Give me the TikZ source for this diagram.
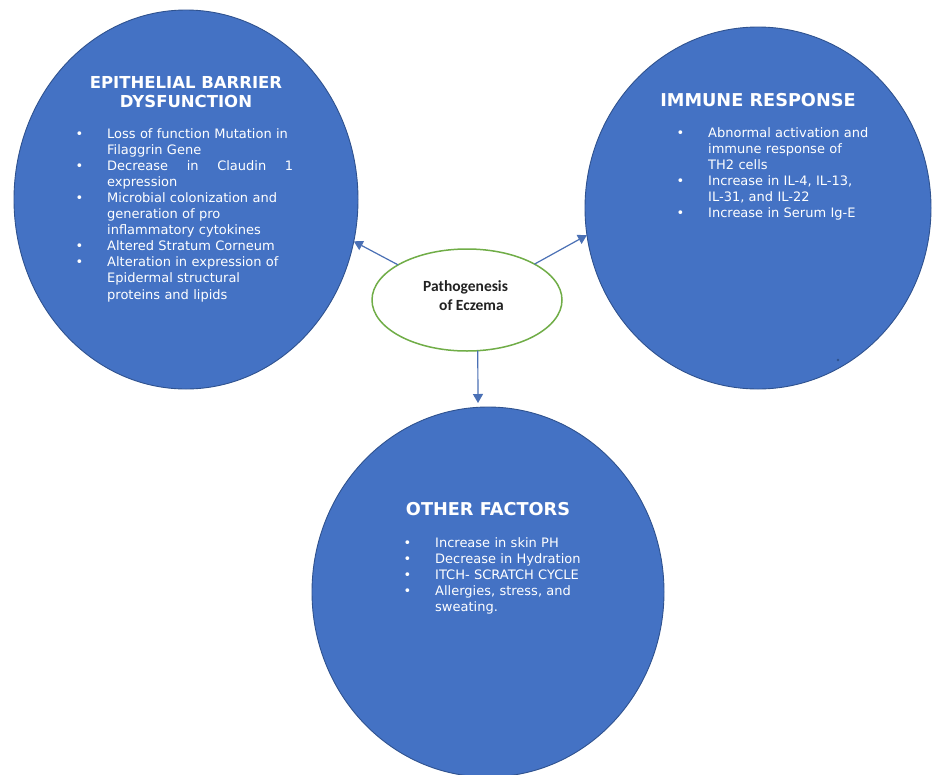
\documentclass[tikz,border=0pt]{standalone}
\usepackage{fontspec}
\setmainfont{DejaVu Sans}
\newfontfamily\carlito{Carlito}
\usetikzlibrary{arrows.meta,shapes.geometric}
\definecolor{fillblue}{HTML}{4472C4}
\definecolor{edgeblue}{HTML}{2F528F}
\definecolor{arrowblue}{HTML}{4A70B5}
\definecolor{ringgreen}{HTML}{70AD47}
\definecolor{darktext}{HTML}{222222}
\newcommand{\bul}{\leavevmode\llap{\textbullet\hspace{24pt}}}
\begin{document}
\begin{tikzpicture}[x=1pt,y=-1pt,
  bigcirc/.style={ellipse, draw=edgeblue, fill=fillblue, line width=0.9pt, inner sep=0pt, outer sep=0pt},
  titletext/.style={text=white, font=\fontsize{17.7}{20}\selectfont\bfseries, anchor=base, inner sep=0pt},
  bodytext/.style={text=white, font=\fontsize{13}{16.1}\selectfont, anchor=base west, inner sep=0pt, align=left, text width=200pt},
  link/.style={draw=arrowblue, line width=1.2pt, -{Triangle[length=9pt,width=10pt]}},
]
\useasboundingbox (0,0) rectangle (932,774);
\fill[white] (0,0) rectangle (932,774);

\node[bigcirc, minimum width=344pt, minimum height=379pt] (L) at (186,199.5) {};
\node[bigcirc, minimum width=346pt, minimum height=362pt] (R) at (758,208) {};
\node[bigcirc, minimum width=352pt, minimum height=370pt] (B) at (488,592) {};
\node[ellipse, draw=ringgreen, line width=1.5pt, fill=white, minimum width=190pt, minimum height=102pt, inner sep=0pt, outer sep=0pt] (C) at (467,300) {};

% centre text
\node[anchor=base west, inner sep=0pt, text=darktext, font={\carlito\bfseries\fontsize{15.5}{18}\selectfont}] (C1) at (423,291) {Pathogenesis};
\node[anchor=base west, inner sep=0pt, text=darktext, font={\carlito\bfseries\fontsize{15.5}{18}\selectfont}] (C2) at (439,310) {of Eczema};

% left
\node[titletext, font=\fontsize{16.5}{20}\selectfont\bfseries] (Lt1) at (186,88) {EPITHELIAL BARRIER};
\node[titletext, font=\fontsize{16.5}{20}\selectfont\bfseries] (Lt2) at (186,107) {DYSFUNCTION};
\node[bodytext] (Lb) at (107,138) {\bul Loss of function Mutation in\\Filaggrin Gene\\\bul\hbox to 186pt{Decrease\hfill in\hfill Claudin\hfill 1}\\expression\\\bul Microbial colonization and\\generation of pro\\inflammatory cytokines\\\bul Altered Stratum Corneum\\\bul Alteration in expression of\\Epidermal structural\\proteins and lipids};

% right
\node[titletext] (Rt) at (758,106) {IMMUNE RESPONSE};
\node[bodytext] (Rb) at (708,137) {\bul Abnormal activation and\\immune response of\\TH2 cells\\\bul Increase in IL-4, IL-13,\\IL-31, and IL-22\\\bul Increase in Serum Ig-E};

% bottom
\node[titletext] (Bt1) at (488,515) {OTHER FACTORS};
\node[bodytext] (Bb) at (435,547) {\bul Increase in skin PH\\\bul Decrease in Hydration\\\bul ITCH- SCRATCH CYCLE\\\bul Allergies, stress, and\\sweating.};

% connectors
\coordinate (Btip) at (478,403);
\draw[link] (C.153) -- (L.346);
\draw[link] (C.28) -- (R.189);
\draw[link] (C.282) -- (Btip);

\fill[edgeblue] (838,360) circle (1.3);
\end{tikzpicture}
\end{document}
